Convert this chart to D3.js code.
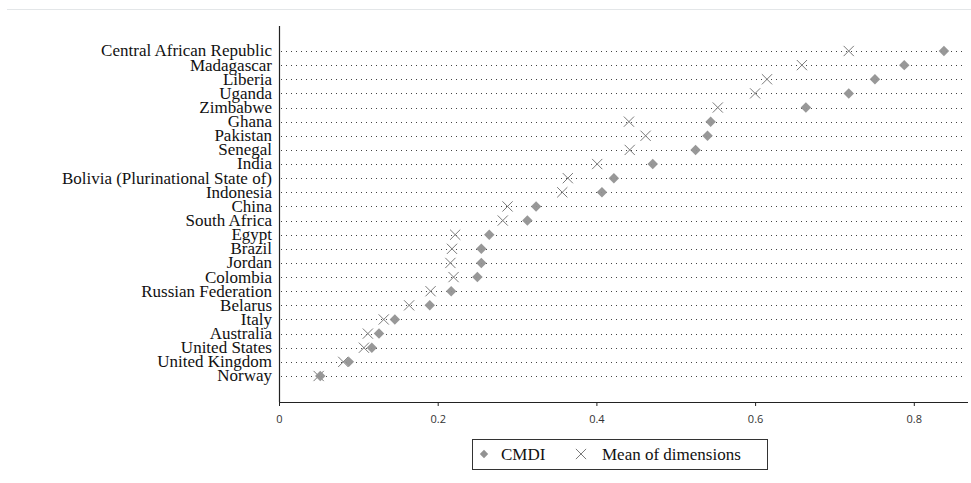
<!DOCTYPE html>
<html>
<head>
<meta charset="utf-8">
<script src="https://cdn.jsdelivr.net/npm/d3@7"></script>
<style>
  body { margin: 0; background: #fff; }
  .country { font-family: "Liberation Serif", serif; font-size: 17px; fill: #111; }
  .xtick { font-family: "Open Sans", "Liberation Sans", sans-serif; font-size: 11px; fill: #333; }
  .legend text { font-family: "Liberation Serif", serif; font-size: 17px; fill: #111; }
</style>
</head>
<body>
<svg id="chart" width="971" height="483"></svg>
<script>
// country order top to bottom
const countries = ["Central African Republic", "Madagascar", "Liberia", "Uganda", "Zimbabwe",
  "Ghana", "Pakistan", "Senegal", "India", "Bolivia (Plurinational State of)", "Indonesia",
  "China", "South Africa", "Egypt", "Brazil", "Jordan", "Colombia", "Russian Federation",
  "Belarus", "Italy", "Australia", "United States", "United Kingdom", "Norway"];

const cmdi = [0.838, 0.788, 0.751, 0.718, 0.664, 0.544, 0.540, 0.525, 0.471, 0.422, 0.407,
  0.324, 0.313, 0.265, 0.255, 0.255, 0.250, 0.217, 0.190, 0.146, 0.126, 0.117, 0.088, 0.052];

const meanDims = [0.718, 0.659, 0.615, 0.600, 0.553, 0.441, 0.462, 0.442, 0.401, 0.364, 0.357,
  0.288, 0.282, 0.222, 0.218, 0.216, 0.220, 0.191, 0.164, 0.132, 0.112, 0.107, 0.081, 0.050];

const xTicks = [0, 0.2, 0.4, 0.6, 0.8];

const svg = d3.select("#chart");
const plot = { left: 279, right: 965, top: 26, bottom: 402 };

// faint frame line at the top
svg.append("line")
  .attr("x1", 7).attr("x2", 971).attr("y1", 9.5).attr("y2", 9.5)
  .attr("stroke", "#e3e6e8").attr("stroke-width", 1);

const x = d3.scaleLinear().domain([0, 0.8]).range([plot.left, plot.left + 0.8 * 793.5]);
const y = d3.scalePoint().domain(countries).range([51, 376]);

// dotted row lines
svg.append("g").selectAll("line").data(countries)
  .join("line")
  .attr("x1", plot.left + 2).attr("x2", plot.right - 2)
  .attr("y1", d => Math.round(y(d)) + 0.5).attr("y2", d => Math.round(y(d)) + 0.5)
  .attr("stroke", "#444").attr("stroke-width", 1)
  .attr("stroke-dasharray", "1,4");

// axes
svg.append("line")
  .attr("x1", plot.left + 0.5).attr("x2", plot.left + 0.5)
  .attr("y1", plot.top).attr("y2", plot.bottom)
  .attr("stroke", "#222").attr("stroke-width", 1.2);

const xAxis = svg.append("g")
  .attr("transform", `translate(0,${plot.bottom})`)
  .call(d3.axisBottom(x).tickValues(xTicks).tickSize(4).tickSizeOuter(0)
    .tickFormat(d => d === 0 ? "0" : d3.format(".1f")(d)));
xAxis.select(".domain").attr("d", `M${plot.left},0.5H${plot.right + 3}`).attr("stroke", "#222").attr("stroke-width", 1.2);
xAxis.selectAll(".tick line").attr("stroke", "#222");
xAxis.selectAll(".tick text").attr("class", "xtick").attr("y", 13).attr("font-family", null).attr("font-size", null);

// country labels
svg.append("g").selectAll("text").data(countries)
  .join("text")
  .attr("class", "country")
  .attr("x", 272)
  .attr("y", d => y(d))
  .attr("dy", "0.32em")
  .attr("text-anchor", "end")
  .text(d => d);

const diamond = d3.symbol().type(d3.symbolDiamond2);
const cross = d3.symbol().type(d3.symbolTimes);

// mean of dimensions (X)
svg.append("g").selectAll("path").data(countries)
  .join("path")
  .attr("transform", (d, i) => `translate(${x(meanDims[i])},${y(d)})`)
  .attr("d", cross.size(70)())
  .attr("fill", "none").attr("stroke", "#7a7a7a").attr("stroke-width", 1);

// CMDI (diamonds)
svg.append("g").selectAll("path").data(countries)
  .join("path")
  .attr("transform", (d, i) => `translate(${x(cmdi[i])},${y(d)})`)
  .attr("d", diamond.size(70)())
  .attr("fill", "#929292").attr("opacity", 0.95);

// legend
const legend = svg.append("g").attr("class", "legend");
legend.append("rect")
  .attr("x", 472.5).attr("y", 439.5).attr("width", 295).attr("height", 30)
  .attr("fill", "#fff").attr("stroke", "#333").attr("stroke-width", 1);
legend.append("path")
  .attr("transform", "translate(484,454)")
  .attr("d", diamond.size(45)())
  .attr("fill", "#929292");
legend.append("text").attr("x", 501).attr("y", 454).attr("dy", "0.35em").text("CMDI");
legend.append("path")
  .attr("transform", "translate(581,454)")
  .attr("d", cross.size(70)())
  .attr("fill", "none").attr("stroke", "#7a7a7a").attr("stroke-width", 1);
legend.append("text").attr("x", 602).attr("y", 454).attr("dy", "0.35em").text("Mean of dimensions");
</script>
</body>
</html>
